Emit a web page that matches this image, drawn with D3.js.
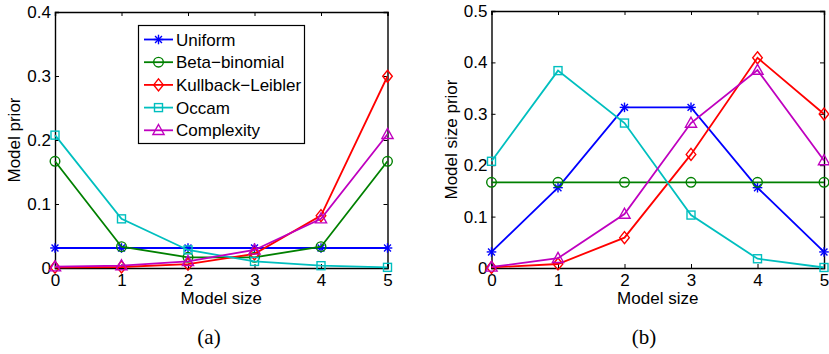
<!DOCTYPE html>
<html>
<head>
<meta charset="utf-8">
<script src="https://cdn.jsdelivr.net/npm/d3@7"></script>
<style>
  html, body { margin: 0; padding: 0; background: #fff; }
  svg { display: block; }
  .tick text { font-family: "Liberation Sans", Arial, Helvetica, sans-serif; font-size: 17px; fill: #000; }
  .lbl { font-family: "Liberation Sans", Arial, Helvetica, sans-serif; font-size: 17px; fill: #000; }
  .cap { font-family: "Liberation Serif", "Times New Roman", serif; font-size: 21px; fill: #000; }
</style>
</head>
<body>
<svg id="fig" width="829" height="354"></svg>
<script>
// Model sizes on the x axis
const modelSizes = [0, 1, 2, 3, 4, 5];

// Panel (a): prior probability of each individual model
const uniformModel   = [0.03125, 0.03125, 0.03125, 0.03125, 0.03125, 0.03125];
const betaBinModel   = [0.1667, 0.0333, 0.0167, 0.0167, 0.0333, 0.1667];
const klModel        = [0.0012, 0.0016, 0.0059, 0.0221, 0.0818, 0.2996];
const occamModel     = [0.2076, 0.0768, 0.0282, 0.0103, 0.0036, 0.0010];
const complexityModel = [0.0020, 0.0038, 0.0105, 0.0282, 0.0770, 0.2090];

// Panel (b): prior probability of each model size
const uniformSize    = [0.03125, 0.15625, 0.3125, 0.3125, 0.15625, 0.03125];
const betaBinSize    = [0.1667, 0.1667, 0.1667, 0.1667, 0.1667, 0.1667];
const klSize         = [0.0012, 0.0078, 0.0590, 0.2210, 0.4090, 0.2996];
const occamSize      = [0.2076, 0.3840, 0.2820, 0.1030, 0.0180, 0.0010];
const complexitySize = [0.0020, 0.0190, 0.1050, 0.2820, 0.3850, 0.2090];

const seriesNames  = ["Uniform", "Beta\u2212binomial", "Kullback\u2212Leibler", "Occam", "Complexity"];
const seriesColors = ["#0000ff", "#008000", "#ff0000", "#00bfbf", "#bf00bf"];
const seriesMarkers = ["star", "circle", "diamond", "square", "triangle"];

const xTickLabels = ["0", "1", "2", "3", "4", "5"];
const yTicksA = [0, 0.1, 0.2, 0.3, 0.4];
const yTicksB = [0, 0.1, 0.2, 0.3, 0.4, 0.5];

const svg = d3.select("#fig");

function drawMarker(g, type, color) {
  const s = g.append("g").attr("fill", "none").attr("stroke", color).attr("stroke-width", 1.4);
  if (type === "star") {
    const r = 4.8, d = r * 0.72;
    s.append("line").attr("x1", -r).attr("x2", r).attr("y1", 0).attr("y2", 0);
    s.append("line").attr("x1", 0).attr("x2", 0).attr("y1", -r).attr("y2", r);
    s.append("line").attr("x1", -d).attr("x2", d).attr("y1", -d).attr("y2", d);
    s.append("line").attr("x1", -d).attr("x2", d).attr("y1", d).attr("y2", -d);
  } else if (type === "circle") {
    s.append("circle").attr("r", 4.8);
  } else if (type === "diamond") {
    s.append("path").attr("d", "M0,-6L4.8,0L0,6L-4.8,0Z");
  } else if (type === "square") {
    s.append("rect").attr("x", -4).attr("y", -4).attr("width", 8).attr("height", 8);
  } else if (type === "triangle") {
    s.append("path").attr("d", "M0,-5.8L5.6,4.2L-5.6,4.2Z");
  }
}

function panel(opts) {
  const { left, right, top, bottom, yMax, yTicks, series, yLabel, yLabelX, caption, captionX } = opts;
  const x = d3.scaleLinear().domain([0, 5]).range([left, right]);
  const y = d3.scaleLinear().domain([0, yMax]).range([bottom, top]);
  const g = svg.append("g");

  const fmt = v => (v === 0 ? "0" : d3.format(".1f")(v));

  // Axes with inward ticks on all four sides
  const ax = [
    g.append("g").attr("transform", `translate(0,${bottom})`)
      .call(d3.axisBottom(x).tickValues(modelSizes).tickFormat((d, i) => xTickLabels[i]).tickSize(-4).tickPadding(6)),
    g.append("g").attr("transform", `translate(0,${top})`)
      .call(d3.axisTop(x).tickValues(modelSizes).tickFormat("").tickSize(-4)),
    g.append("g").attr("transform", `translate(${left},0)`)
      .call(d3.axisLeft(y).tickValues(yTicks).tickFormat(fmt).tickSize(-4).tickPadding(4)),
    g.append("g").attr("transform", `translate(${right},0)`)
      .call(d3.axisRight(y).tickValues(yTicks).tickFormat("").tickSize(-4))
  ];
  ax.forEach(a => {
    a.select(".domain").attr("stroke", "#000").attr("stroke-width", 1.4);
    a.selectAll(".tick line").attr("stroke", "#000").attr("stroke-width", 1);
  });
  ax[0].selectAll(".tick text").attr("dy", "0.72em");

  const line = d3.line().x((d, i) => x(modelSizes[i])).y(d => y(d));

  series.forEach((vals, k) => {
    g.append("path").datum(vals).attr("d", line)
      .attr("fill", "none").attr("stroke", seriesColors[k]).attr("stroke-width", 1.8);
    vals.forEach((v, i) => {
      const m = g.append("g").attr("transform", `translate(${x(modelSizes[i])},${y(v)})`);
      drawMarker(m, seriesMarkers[k], seriesColors[k]);
    });
  });

  // Axis labels
  g.append("text").attr("class", "lbl").attr("text-anchor", "middle")
    .attr("x", (left + right) / 2).attr("y", 304).text("Model size");
  g.append("text").attr("class", "lbl").attr("text-anchor", "middle")
    .attr("transform", `translate(${yLabelX},${(top + bottom) / 2}) rotate(-90)`).text(yLabel);

  g.append("text").attr("class", "cap").attr("text-anchor", "middle")
    .attr("x", captionX).attr("y", 344).text(caption);

  return { x, y, g };
}

const pa = panel({
  left: 55, right: 387.5, top: 12, bottom: 268, yMax: 0.4, yTicks: yTicksA,
  series: [uniformModel, betaBinModel, klModel, occamModel, complexityModel],
  yLabel: "Model prior", yLabelX: 20, caption: "(a)", captionX: 209
});

panel({
  left: 491.5, right: 824, top: 11, bottom: 268, yMax: 0.5, yTicks: yTicksB,
  series: [uniformSize, betaBinSize, klSize, occamSize, complexitySize],
  yLabel: "Model size prior", yLabelX: 457, caption: "(b)", captionX: 644
});

// Legend in panel (a)
const leg = pa.g.append("g");
leg.append("rect").attr("x", 138.5).attr("y", 25.5).attr("width", 166).attr("height", 118)
  .attr("fill", "#fff").attr("stroke", "#000").attr("stroke-width", 1.2);
seriesNames.forEach((name, k) => {
  const cy = 39.5 + k * 22.7;
  leg.append("line").attr("x1", 144).attr("x2", 173).attr("y1", cy).attr("y2", cy)
    .attr("stroke", seriesColors[k]).attr("stroke-width", 1.8);
  const m = leg.append("g").attr("transform", `translate(158.5,${cy})`);
  drawMarker(m, seriesMarkers[k], seriesColors[k]);
  leg.append("text").attr("class", "lbl").attr("x", 176).attr("y", cy).attr("dy", "0.36em").text(name);
});
</script>
</body>
</html>
